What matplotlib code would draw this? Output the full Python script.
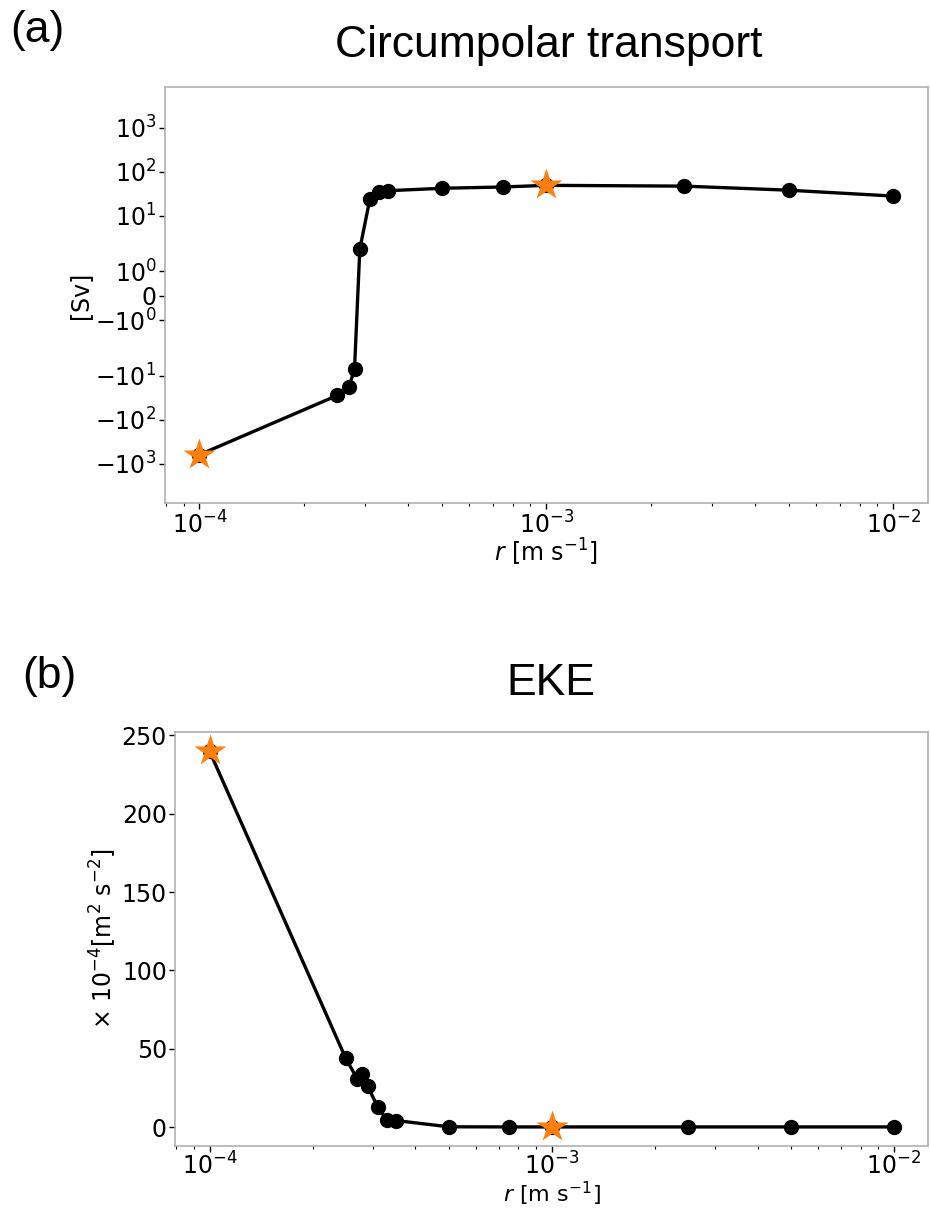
import numpy as np
import matplotlib
matplotlib.use("Agg")
import matplotlib.pyplot as plt
from matplotlib.ticker import NullLocator

# ── data ──────────────────────────────────────────────────────────────────────
r_vals    = [1e-4, 2.5e-4, 2.7e-4, 2.8e-4, 2.9e-4, 3.1e-4, 3.3e-4, 3.5e-4,
             5e-4, 7.5e-4, 1e-3, 2.5e-3, 5e-3, 1e-2]
transport = [-620, -28, -18, -7, 1.9, 24, 35, 37, 42, 45, 49, 47, 38, 28]
eke       = [240, 44, 31, 34, 26, 13, 4.6, 4.2, 0.2, 0.1, 0.1, 0.1, 0.1, 0.1]
star_r    = [1e-4, 1e-3]
sym_ticks = [-1000, -100, -10, -1, 0, 1, 10, 100, 1000]

r_vals = np.array(r_vals)
transport = np.array(transport)
eke = np.array(eke)
star_idx = [list(r_vals).index(s) for s in star_r]

ORANGE = "#ff7f0e"
SPINE = "#b0b0b0"
FS = 17

fig = plt.figure(figsize=(9.3, 12.11), dpi=100)
ax1 = fig.add_axes([0.1771, 0.5844, 0.8207, 0.3440])
ax2 = fig.add_axes([0.1885, 0.0539, 0.8093, 0.3414])


def style(ax):
    for s in ax.spines.values():
        s.set_color(SPINE)
        s.set_linewidth(1.2)
    ax.tick_params(which="major", labelsize=FS, length=4, width=1, color="k", pad=2)
    ax.tick_params(which="minor", length=2.5, width=0.8, color="k")


# ── (a) circumpolar transport ────────────────────────────────────────────────
ax1.plot(r_vals, transport, "-o", color="k", lw=2.4, ms=10)
ax1.plot(r_vals[star_idx], transport[star_idx], "*", color=ORANGE, ms=24,
         mec="none", zorder=4)
ax1.set_xscale("log")
ax1.set_yscale("symlog", linthresh=2, linscale=1)
ax1.set_yticks(sym_ticks)
ax1.yaxis.set_minor_locator(NullLocator())
ax1.set_ylim(-7800, 8400)
ax1.set_ylabel("[Sv]", fontsize=FS, labelpad=2)
ax1.set_xlabel(r"$r$ [m s$^{-1}$]", fontsize=FS, labelpad=-1)
style(ax1)

# ── (b) EKE ──────────────────────────────────────────────────────────────────
ax2.plot(r_vals, eke, "-o", color="k", lw=2.4, ms=10)
ax2.plot(r_vals[star_idx], eke[star_idx], "*", color=ORANGE, ms=24,
         mec="none", zorder=4)
ax2.set_xscale("log")
ax2.set_yticks([0, 50, 100, 150, 200, 250])
ax2.set_ylabel(r"× 10$^{-4}$[m$^2$ s$^{-2}$]", fontsize=FS, labelpad=2)
ax2.set_xlabel(r"$r$ [m s$^{-1}$]", fontsize=16, labelpad=0)
style(ax2)
ax2.tick_params(axis="x", which="major", pad=1)

# ── panel titles / letters ───────────────────────────────────────────────────
tfont = dict(family="Liberation Sans", fontsize=32, va="baseline")
fig.text(549 / 930, 1 - 57 / 1211, "Circumpolar transport", ha="center", **tfont)
fig.text(551 / 930, 1 - 695 / 1211, "EKE", ha="center", **tfont)
fig.text(10 / 930, 1 - 42 / 1211, "(a)", ha="left", **tfont)
fig.text(22 / 930, 1 - 688 / 1211, "(b)", ha="left", **tfont)

fig.savefig("out.png", dpi=100)
